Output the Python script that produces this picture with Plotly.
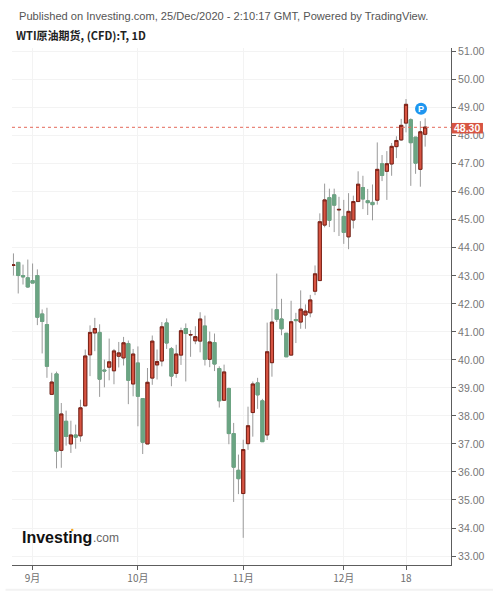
import pandas as pd
import plotly.graph_objects as go

# WTI daily candles (Aug 26 - Dec 24 2020)
dates = [d.strftime("%Y-%m-%d") for d in pd.bdate_range("2020-08-26", "2020-12-24")]

opens = [43.37, 43.48, 43.01, 42.93, 42.83, 43.01, 41.64, 41.26, 38.77, 39.50,
         36.77, 37.81, 37.00, 37.32, 37.29, 38.36, 40.18, 40.96, 40.98, 39.64,
         39.74, 39.61, 40.13, 40.07, 40.58, 39.14, 39.89, 38.62, 37.00, 39.35,
         39.82, 39.96, 41.32, 40.40, 39.52, 40.17, 41.12, 40.89, 40.68, 40.67,
         41.21, 40.02, 40.62, 39.69, 38.56, 38.98, 37.37, 36.06, 35.23, 37.01,
         38.12, 39.18, 38.54, 37.32, 39.90, 41.79, 41.46, 40.95, 40.17, 41.44,
         41.35, 41.60, 41.68, 42.45, 42.83, 44.81, 45.79, 45.89, 45.35, 45.12,
         44.39, 44.99, 45.65, 46.15, 45.68, 45.62, 45.70, 47.00, 46.73, 46.99,
         47.61, 47.85, 48.45, 48.57, 47.95, 46.80, 48.05]
closes = [43.39, 43.01, 42.96, 42.60, 42.74, 41.52, 41.37, 39.77, 39.21, 36.74,
          38.07, 37.27, 37.32, 37.24, 38.29, 40.14, 40.98, 41.12, 39.31, 39.60,
          39.93, 40.32, 40.25, 40.61, 39.27, 40.21, 38.70, 37.06, 39.20, 40.67,
          39.94, 41.18, 40.60, 39.42, 40.21, 41.04, 40.94, 40.90, 40.83, 41.46,
          40.02, 40.64, 39.85, 38.54, 39.57, 37.37, 36.17, 35.76, 36.80, 37.65,
          39.14, 38.75, 37.08, 40.29, 41.35, 41.45, 41.11, 40.11, 41.36, 41.40,
          41.81, 41.74, 42.14, 43.07, 44.93, 45.71, 44.98, 45.52, 45.37, 44.55,
          45.30, 45.65, 46.27, 45.74, 45.61, 45.54, 46.80, 46.58, 47.00, 47.62,
          47.83, 48.37, 49.12, 47.75, 47.02, 48.14, 48.31]
highs = [43.80, 43.48, 43.40, 43.58, 43.44, 43.23, 41.80, 41.86, 39.54, 39.58,
         38.46, 38.19, 37.83, 37.69, 38.58, 40.37, 41.23, 41.50, 41.27, 40.01,
         40.76, 40.39, 40.64, 40.82, 40.69, 40.39, 40.48, 38.62, 39.71, 40.87,
         40.37, 41.35, 41.48, 40.46, 40.54, 41.15, 41.30, 41.06, 41.20, 41.70,
         41.58, 41.01, 40.94, 39.77, 39.83, 39.01, 37.75, 36.62, 37.15, 38.33,
         39.23, 39.36, 38.61, 41.33, 41.83, 43.08, 42.18, 40.95, 42.11, 41.68,
         42.48, 41.98, 42.32, 43.37, 45.23, 46.29, 46.11, 46.11, 45.82, 45.71,
         45.95, 45.86, 46.73, 46.57, 46.10, 46.26, 47.76, 47.31, 47.45, 47.74,
         47.98, 48.60, 49.31, 48.62, 47.95, 48.52, 48.62]
lows = [43.01, 42.37, 42.69, 42.57, 42.74, 41.24, 40.23, 39.36, 38.77, 36.13,
        36.15, 36.94, 36.68, 36.83, 37.08, 38.36, 39.42, 40.31, 38.68, 39.02,
        39.27, 39.13, 39.73, 39.80, 38.42, 38.70, 37.63, 36.64, 37.00, 39.11,
        39.30, 39.77, 40.39, 39.06, 39.36, 39.82, 39.23, 40.11, 40.56, 40.27,
        39.80, 39.74, 39.60, 38.30, 38.56, 36.99, 34.93, 35.21, 33.65, 36.79,
        37.26, 38.25, 37.08, 37.14, 39.40, 41.35, 40.88, 40.11, 40.17, 40.60,
        41.11, 41.11, 41.52, 42.31, 42.83, 44.73, 44.74, 44.56, 44.42, 44.14,
        43.95, 44.69, 45.65, 45.38, 45.17, 44.98, 45.54, 46.38, 45.71, 46.57,
        47.20, 47.82, 48.12, 46.21, 46.64, 46.18, 47.61]

tick_dates = ["2020-09-01", "2020-10-01", "2020-11-02", "2020-12-01", "2020-12-18"]
tick_labels = ["9月", "10月", "11月", "12月", "18"]
price_ticks = list(range(33, 52))
last_price = 48.30

W, H = 493, 591
UP, DOWN, UP_EDGE, WICK = "#d75442", "#6ba583", "#7c2116", "#9a9a9a"


def px(x):
    return (x - L) / (W - L - R)


def py(y):
    return (H - B - y) / (H - T - B)


L, R, T, B = 11.5, 42, 48, 25.7

fig = go.Figure()

# wicks first, in grey
fig.add_trace(go.Candlestick(
    x=dates, open=opens, high=highs, low=lows, close=closes,
    increasing=dict(line=dict(color=WICK, width=1), fillcolor=UP),
    decreasing=dict(line=dict(color=WICK, width=1), fillcolor=DOWN),
    whiskerwidth=0, hoverinfo="skip",
))
# bodies on top, no wick
fig.add_trace(go.Candlestick(
    x=dates, open=opens, close=closes,
    high=[max(o, c) for o, c in zip(opens, closes)],
    low=[min(o, c) for o, c in zip(opens, closes)],
    increasing=dict(line=dict(color=UP_EDGE, width=1), fillcolor=UP),
    decreasing=dict(line=dict(color=DOWN, width=1), fillcolor=DOWN),
    whiskerwidth=0, hoverinfo="skip",
))

fig.add_hline(y=last_price, line=dict(color="#e4695a", width=1, dash="dot"))

fig.update_xaxes(
    type="category", range=[-0.3, 91.4], rangeslider_visible=False, automargin=False,
    tickmode="array", tickvals=tick_dates, ticktext=tick_labels, tickangle=0,
    ticks="outside", ticklen=4, tickcolor="#5d5d5d",
    tickfont=dict(family="Noto Sans CJK SC", size=10, color="#6f6f6f"),
    showgrid=True, gridcolor="#f3f3f3", showline=True, linecolor="#5d5d5d", linewidth=1,
    zeroline=False,
)
fig.update_yaxes(
    side="right", range=[32.68, 51.13], automargin=False,
    tickmode="array", tickvals=price_ticks, tickformat=".2f",
    ticks="outside", ticklen=4, tickcolor="#5d5d5d",
    tickfont=dict(family="Liberation Sans", size=10.5, color="#777777"),
    showgrid=True, gridcolor="#f3f3f3", showline=True, linecolor="#5d5d5d", linewidth=1,
    zeroline=False,
)

def text(x, y, s, size, color, family="Liberation Sans", anchor="left"):
    fig.add_annotation(xref="paper", yref="paper", x=px(x), y=py(y), text=s, showarrow=False,
                       xanchor=anchor, yanchor="middle", font=dict(family=family, size=size, color=color))


text(16.5, 16, "Published on Investing.com, 25/Dec/2020 - 2:10:17 GMT, Powered by TradingView.", 11.1, "#555555")
text(14, 35, "<b>WTI原油期货, (CFD):T, 1D</b>", 11, "#222222", family="Noto Sans CJK SC")
text(20, 537.5, "<b>Investing</b>", 16, "#111111")
text(90.5, 538.5, ".com", 12, "#666666")

# last price badge, P marker, orange dot on the logo, grey strip at the bottom
fig.add_shape(type="rect", xref="paper", yref="paper", x0=px(451.5), x1=px(483), y0=py(123), y1=py(133.5),
              fillcolor=UP, line_width=0)
text(467, 128.5, "<b>48.30</b>", 10.5, "white", anchor="center")
fig.add_shape(type="circle", xref="paper", yref="paper", x0=px(415), x1=px(427), y0=py(102.7), y1=py(114.7),
              fillcolor="#1e96f0", line_width=0)
text(421, 108.7, "<b>P</b>", 9, "white", anchor="center")
fig.add_shape(type="circle", xref="paper", yref="paper", x0=px(70.5), x1=px(73), y0=py(529), y1=py(531.5),
              fillcolor="#f5a623", line_width=0)
fig.add_shape(type="rect", xref="paper", yref="paper", x0=px(5), x1=px(W), y0=py(589), y1=py(H),
              fillcolor="#f2f2f2", line_width=0)

fig.update_layout(
    width=W, height=H, margin=dict(l=L, r=R, t=T, b=B, pad=0), boxgap=0.05,
    paper_bgcolor="white", plot_bgcolor="white", showlegend=False,
)

fig.write_html("out.html", config={"displayModeBar": False},
               post_script="document.body.style.margin='0'")
